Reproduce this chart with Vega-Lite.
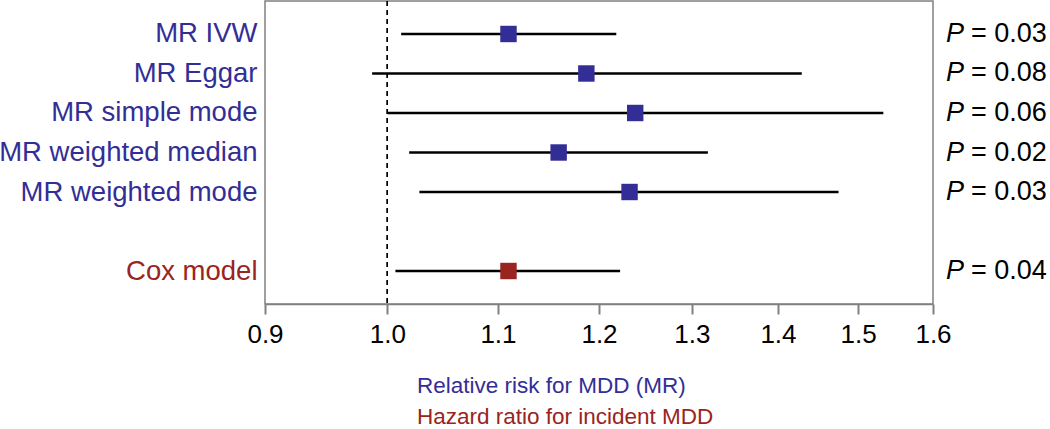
{
  "$schema": "https://vega.github.io/schema/vega-lite/v6.json",
  "autosize": "none",
  "width": 668,
  "height": 303,
  "padding": {"left": 265, "top": 1, "right": 117, "bottom": 125},
  "background": "white",
  "config": {
    "font": "Liberation Sans",
    "view": {"stroke": "#808080", "strokeWidth": 1.5}
  },
  "data": {
    "values": [
      {"label": "MR IVW", "method": "MR", "est": 1.11, "lo": 1.012, "hi": 1.218, "p": 0.03},
      {"label": "MR Eggar", "method": "MR", "est": 1.187, "lo": 0.987, "hi": 1.429, "p": 0.08},
      {"label": "MR simple mode", "method": "MR", "est": 1.238, "lo": 1.0, "hi": 1.533, "p": 0.06},
      {"label": "MR weighted median", "method": "MR", "est": 1.159, "lo": 1.019, "hi": 1.318, "p": 0.02},
      {"label": "MR weighted mode", "method": "MR", "est": 1.232, "lo": 1.028, "hi": 1.475, "p": 0.03},
      {"label": "Cox model", "method": "Cox", "est": 1.11, "lo": 1.007, "hi": 1.222, "p": 0.04}
    ]
  },
  "transform": [
    {"calculate": "'= ' + format(datum.p, '.2f')", "as": "ptext"}
  ],
  "title": {
    "text": "Relative risk for MDD (MR)",
    "subtitle": "Hazard ratio for incident MDD",
    "orient": "bottom",
    "anchor": "start",
    "frame": "group",
    "dx": 152,
    "offset": 28,
    "font": "Liberation Sans",
    "fontSize": 22.5,
    "fontWeight": "normal",
    "color": "#332e96",
    "subtitleFont": "Liberation Sans",
    "subtitleFontSize": 22.5,
    "subtitleColor": "#9a2420",
    "subtitlePadding": 8
  },
  "encoding": {
    "y": {
      "field": "label",
      "type": "nominal",
      "scale": {
        "type": "point",
        "padding": 0.835,
        "domain": ["MR IVW", "MR Eggar", "MR simple mode", "MR weighted median", "MR weighted mode", " ", "Cox model"]
      },
      "axis": {
        "title": null,
        "domain": false,
        "ticks": false,
        "labelFontSize": 27.5,
        "labelPadding": 8,
        "labelColor": {"expr": "datum.value == 'Cox model' ? '#9a2420' : '#332e96'"},
        "labelFont": "Liberation Sans",
        "labelLimit": 400
      }
    }
  },
  "layer": [
    {
      "mark": {"type": "rule", "color": "black", "strokeDash": [5, 4], "strokeWidth": 1},
      "encoding": {"x": {"datum": 1.0, "type": "quantitative"}, "y": null}
    },
    {
      "mark": {"type": "rule", "color": "black", "strokeWidth": 2.5},
      "encoding": {
        "x": {
          "field": "lo",
          "type": "quantitative",
          "scale": {"type": "log", "domain": [0.9, 1.6], "nice": false},
          "axis": {
            "title": null,
            "values": [0.9, 1.0, 1.1, 1.2, 1.3, 1.4, 1.5, 1.6],
            "format": ".1f",
            "grid": false,
            "domainColor": "#808080",
            "domainWidth": 1.5,
            "tickColor": "#808080",
            "tickWidth": 2,
            "tickSize": 10,
            "labelFontSize": 26,
            "labelColor": "black",
            "labelPadding": 7,
            "labelFont": "Liberation Sans",
            "labelFlush": false,
            "labelOverlap": false
          }
        },
        "x2": {"field": "hi"}
      }
    },
    {
      "mark": {"type": "square", "opacity": 1, "size": 270},
      "encoding": {
        "x": {"field": "est", "type": "quantitative"},
        "color": {
          "field": "method",
          "type": "nominal",
          "scale": {"domain": ["MR", "Cox"], "range": ["#332e96", "#9a2420"]},
          "legend": null
        }
      }
    },
    {
      "mark": {"type": "text", "text": "P", "align": "left", "baseline": "middle", "dx": 13, "fontSize": 27, "fontStyle": "italic", "font": "Liberation Sans", "color": "black"},
      "encoding": {"x": {"datum": 1.6, "type": "quantitative"}}
    },
    {
      "mark": {"type": "text", "align": "left", "baseline": "middle", "dx": 38, "fontSize": 27, "font": "Liberation Sans", "color": "black"},
      "encoding": {"x": {"datum": 1.6, "type": "quantitative"}, "text": {"field": "ptext"}}
    }
  ]
}
